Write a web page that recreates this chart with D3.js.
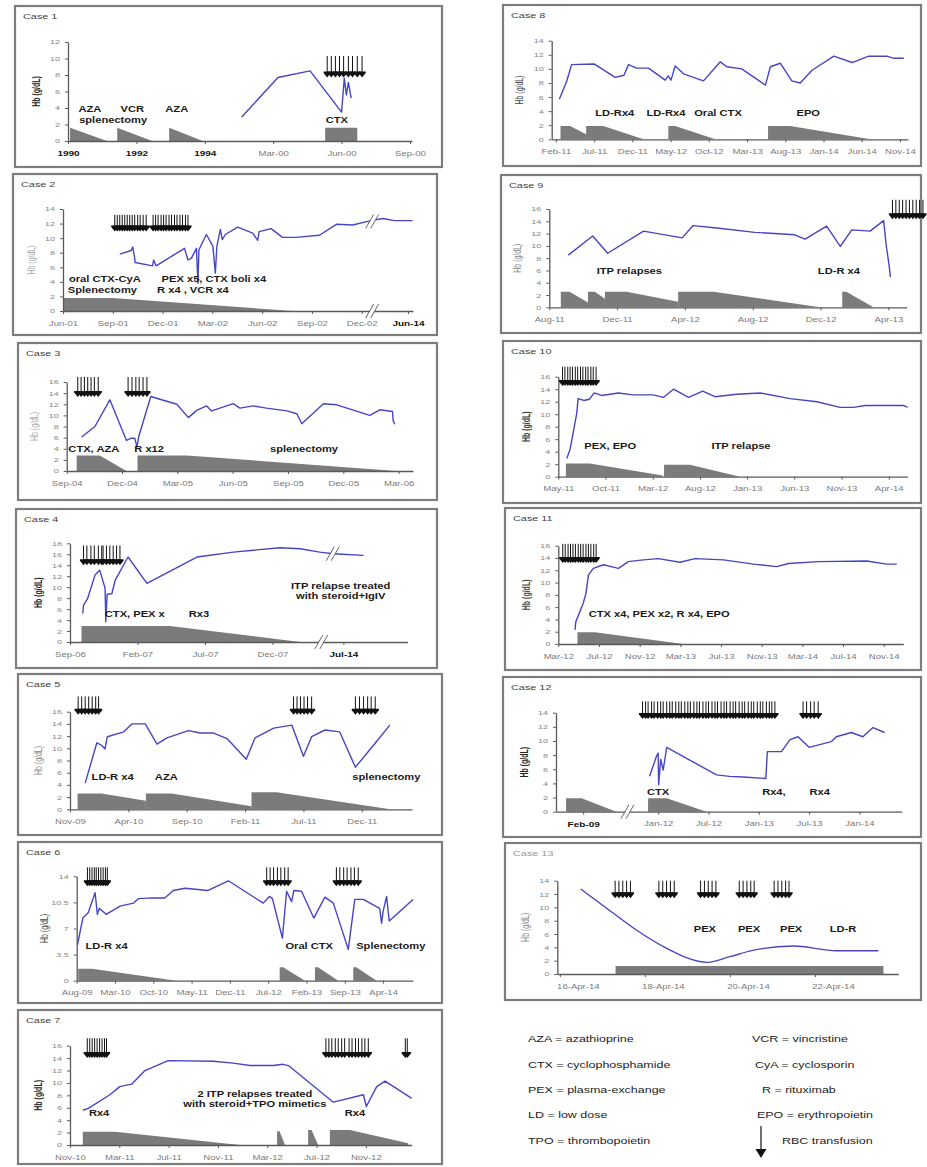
<!DOCTYPE html>
<html>
<head>
<meta charset="utf-8">
<script src="https://cdn.jsdelivr.net/npm/d3@7"></script>
<style>
  body { margin: 0; background: #fff; }
  text { font-family: "Liberation Sans", Arial, sans-serif; }
</style>
</head>
<body>
<script>
// Hb course per case: [time, Hb g/dL]; time is counted in tick intervals of each panel's axis
const case1Hb = [[2.54,2.9],[3.07,7.7],[3.54,8.5],[4.0,3.5],[4.04,7.6],[4.07,5.6],[4.1,7.1],[4.14,5.2]];
const case2Hb = [[1.14,7.8],[1.37,8.3],[1.40,8.8],[1.43,7.7],[1.45,6.65],[1.80,6.2],[1.82,7.0],[1.87,6.2],[2.44,8.6],[2.51,7.0],[2.58,7.25],[2.68,8.6],[2.71,3.8],[2.73,8.4],[2.88,10.5],[3.01,8.9],[3.06,5.2],[3.09,8.85],[3.16,11.2],[3.20,9.8],[3.26,10.5],[3.51,11.5],[3.81,10.7],[3.91,9.7],[3.94,10.9],[4.18,11.3],[4.41,10.1],[4.68,10.1],[5.15,10.4],[5.49,11.9],[5.82,11.8],[6.12,12.3],[6.42,12.7],[6.66,12.4],[7.02,12.4]];
const case3Hb = [[0.27,6.1],[0.51,8.0],[0.78,12.8],[1.08,5.5],[1.17,5.9],[1.23,5.9],[1.27,4.3],[1.30,6.1],[1.52,13.4],[1.99,12.0],[2.20,9.6],[2.35,10.9],[2.53,11.7],[2.62,10.8],[3.01,12.1],[3.13,11.3],[3.37,11.7],[3.61,11.3],[3.98,10.8],[4.16,10.3],[4.25,8.5],[4.64,12.1],[4.88,11.9],[5.48,10.0],[5.66,11.0],[5.89,10.7],[5.90,9.1],[5.93,8.4]];
const case4Hb = [[0.19,5.2],[0.2,6.7],[0.26,7.9],[0.37,12.2],[0.44,13.1],[0.52,9.8],[0.53,3.7],[0.55,8.7],[0.62,8.8],[0.67,11.3],[0.86,15.5],[1.14,10.7],[1.88,15.5],[2.42,16.4],[3.11,17.2],[3.41,17.0],[3.70,16.4],[3.90,16.1],[4.35,15.8]];
const case5Hb = [[0.26,4.3],[0.46,10.9],[0.54,10.5],[0.6,9.9],[0.64,11.9],[0.92,12.7],[1.06,14.0],[1.29,14.0],[1.49,10.7],[1.66,11.7],[2.03,12.9],[2.23,12.5],[2.46,12.5],[2.69,11.6],[3.02,8.2],[3.17,11.7],[3.49,13.3],[3.8,13.8],[4.0,8.7],[4.14,11.9],[4.37,13.0],[4.62,12.7],[4.89,6.9],[5.2,10.5],[5.48,13.8]];
const case6Hb = [[0.02,4.8],[0.16,8.4],[0.3,9.1],[0.48,11.8],[0.54,8.9],[0.59,9.7],[0.77,8.9],[1.13,10.0],[1.48,10.4],[1.61,11.0],[1.96,11.1],[2.3,11.1],[2.52,12.1],[2.83,12.4],[3.43,12.1],[3.96,13.4],[4.87,10.4],[5.03,11.3],[5.11,11.0],[5.37,5.7],[5.48,12.0],[5.61,10.6],[5.67,12.1],[5.87,12.0],[6.19,8.4],[6.48,11.2],[6.70,10.4],[7.09,4.2],[7.26,10.9],[7.48,10.9],[7.91,9.7],[7.96,7.7],[8.0,9.3],[8.09,11.3],[8.16,8.0],[8.78,10.9]];
const case7Hb = [[0.26,5.6],[0.37,5.9],[0.81,8.1],[1.01,9.4],[1.25,9.8],[1.52,12.0],[1.99,13.6],[2.91,13.5],[3.31,13.2],[3.65,12.8],[4.12,12.8],[4.32,13.0],[4.43,12.8],[5.34,6.9],[5.95,8.1],[6.01,6.2],[6.22,9.4],[6.39,10.3],[6.93,7.5]];
const case8Hb = [[0.09,5.7],[0.28,8.2],[0.41,10.6],[1.0,10.7],[1.55,8.8],[1.78,9.1],[1.9,10.6],[2.11,10.1],[2.42,10.1],[2.86,8.4],[2.94,9.0],[3.01,8.4],[3.12,10.4],[3.34,9.3],[3.86,8.3],[4.30,11.0],[4.47,10.3],[4.86,10.0],[5.48,7.7],[5.61,10.3],[5.87,10.8],[6.17,8.3],[6.39,8.0],[6.70,9.8],[7.27,11.8],[7.75,10.9],[8.18,11.8],[8.66,11.8],[8.84,11.5],[9.10,11.5]];
const case9Hb = [[0.28,8.5],[0.64,11.6],[0.86,8.8],[1.39,12.4],[1.96,11.3],[2.12,13.3],[2.47,12.9],[3.03,12.2],[3.62,11.8],[3.77,11.1],[4.09,13.2],[4.29,9.9],[4.46,12.6],[4.73,12.4],[4.93,14.1],[4.97,9.9],[5.01,6.9],[5.03,4.9]];
const case10Hb = [[0.18,2.9],[0.25,4.4],[0.39,10.1],[0.42,12.5],[0.54,12.2],[0.66,12.4],[0.76,13.4],[0.92,13.0],[1.27,13.4],[1.59,13.1],[2.01,13.1],[2.23,12.7],[2.44,14.0],[2.76,12.7],[3.06,13.7],[3.32,12.8],[3.78,13.2],[4.28,13.4],[4.91,12.5],[5.48,12.0],[5.97,11.1],[6.25,11.1],[6.5,11.4],[7.31,11.4],[7.4,11.1]];
const case11Hb = [[0.41,2.3],[0.43,3.6],[0.61,6.6],[0.68,8.2],[0.74,11.2],[0.86,12.3],[1.11,12.9],[1.48,12.3],[1.72,13.4],[2.09,13.7],[2.46,13.9],[2.99,13.3],[3.36,13.9],[4.06,13.7],[4.80,13.0],[5.37,12.6],[5.66,13.1],[6.39,13.4],[7.58,13.5],[8.07,13.0],[8.32,13.0]];
const case12Hb = [[-0.17,5.0],[-0.03,7.9],[0,8.3],[0.01,3.8],[0.05,7.4],[0.1,5.9],[0.17,9.1],[1.16,5.2],[1.42,5.0],[1.69,4.9],[2.14,4.7],[2.17,8.5],[2.45,8.5],[2.62,10.2],[2.78,10.6],[3.0,9.1],[3.44,9.9],[3.54,10.6],[3.84,11.2],[4.07,10.6],[4.27,11.9],[4.50,11.2]];
const case13Hb = [[16.49,12.75],[17.18,9.5],[17.8,6.6],[18.47,4.0],[19.47,1.75],[20.0,2.6],[20.51,3.5],[21.49,4.2],[22.51,3.5],[23.49,3.5]];

// Steroid courses: top edge of each shaded block as [time, level]
const case1Steroid = [[[0.03,1.6],[0.57,0]],[[0.72,1.6],[1.23,0]],[[1.48,1.6],[1.97,0]],[[3.76,1.6],[4.23,1.6]]];
const case2Steroid = [[[0,1.8],[1.0,1.8],[4.6,0]]];
const case3Steroid = [[[0.18,2.8],[0.6,2.8],[1.08,0]],[[1.28,2.8],[2.17,2.8],[5.96,0]]];
const case4Steroid = [[[0.17,2.9],[1.48,2.9],[3.41,0]]];
const case5Steroid = [[[0.13,2.6],[0.54,2.6],[1.3,1.4]],[[1.3,2.6],[1.74,2.6],[3.11,0.5]],[[3.11,2.8],[3.54,2.8],[5.49,0]]];
const case6Steroid = [[[0.04,1.6],[0.4,1.6],[2.6,0]],[[5.3,1.8],[5.39,1.8],[5.96,0]],[[6.22,1.8],[6.3,1.8],[6.83,0]],[[7.22,1.8],[7.3,1.8],[7.83,0]]];
const case7Steroid = [[[0.26,2.15],[0.91,2.15],[3.45,0]],[[4.2,2.2],[4.25,2.2],[4.36,0]],[[4.83,2.4],[4.9,2.4],[5.03,0]],[[5.27,2.4],[5.68,2.4],[6.86,0.3]]];
const case8Steroid = [[[0.12,1.9],[0.37,1.9],[0.79,0.7]],[[0.79,1.9],[1.24,1.9],[2.29,0]],[[2.94,1.9],[3.12,1.9],[4.17,0]],[[5.55,1.9],[6.13,1.9],[8.23,0]]];
const case9Steroid = [[[0.17,2.55],[0.3,2.55],[0.57,0.8]],[[0.57,2.55],[0.67,2.55],[0.82,1.4]],[[0.82,2.55],[1.14,2.55],[1.9,0.9]],[[1.9,2.55],[2.42,2.55],[3.99,0]],[[4.32,2.55],[4.38,2.55],[4.78,0]]];
const case10Steroid = [[[0.16,2.1],[0.67,2.1],[2.21,0.2]],[[2.24,1.9],[2.79,1.9],[3.85,0]]];
const case11Steroid = [[[0.47,1.9],[0.9,1.9],[3.07,0]]];
const case12Steroid = [[[-1.83,1.9],[-1.52,1.9],[-0.83,0]],[[-0.2,1.9],[0.17,1.9],[0.96,0]]];
const case13Steroid = [[[17.31,1.2],[23.61,1.2]]];

// RBC transfusions (time of each arrow)
const case1Rbc = [3.79,3.85,3.91,3.97,4.03,4.1,4.16,4.23,4.3];
const case2Rbc = [1.04,1.09,1.14,1.19,1.24,1.29,1.34,1.39,1.44,1.5,1.55,1.61,1.67,1.81,1.86,1.91,1.97,2.02,2.07,2.13,2.18,2.24,2.29,2.35,2.4,2.46,2.51];
const case3Rbc = [0.2,0.26,0.32,0.38,0.44,0.5,0.57,1.11,1.18,1.25,1.31,1.38,1.45];
const case4Rbc = [0.2,0.25,0.31,0.36,0.42,0.47,0.49,0.54,0.59,0.64,0.69,0.74];
const case5Rbc = [0.14,0.2,0.26,0.32,0.38,0.44,0.49,3.83,3.89,3.95,4.01,4.07,4.14,4.89,4.96,5.03,5.1,5.16,5.23];
const case6Rbc = [0.28,0.34,0.4,0.46,0.51,0.57,0.63,0.69,0.75,0.8,4.96,5.05,5.14,5.24,5.33,5.43,5.52,6.78,6.87,6.97,7.06,7.16,7.25,7.35];
const case7Rbc = [0.35,0.4,0.45,0.5,0.55,0.6,0.65,0.7,0.74,5.19,5.25,5.31,5.38,5.44,5.51,5.57,5.66,5.72,5.79,5.85,5.92,5.98,6.05,6.8,6.84];
const case8Rbc = [];
const case9Rbc = [5.06,5.11,5.16,5.21,5.26,5.31,5.36,5.41,5.46,5.51];
const case10Rbc = [0.09,0.14,0.2,0.25,0.3,0.36,0.41,0.47,0.52,0.58,0.63,0.69,0.74,0.8];
const case11Rbc = [0.11,0.17,0.24,0.3,0.36,0.42,0.49,0.55,0.61,0.68,0.74,0.8,0.87,0.93];
const case12Rbc = [-0.31,-0.25,-0.2,-0.13,-0.08,-0.01,0.05,0.1,0.17,0.23,0.28,0.35,0.41,0.46,0.53,0.59,0.64,0.71,0.77,0.82,0.89,0.95,1.0,1.07,1.13,1.18,1.25,1.31,1.36,1.43,1.49,1.54,1.61,1.67,1.72,1.79,1.85,1.9,1.97,2.03,2.08,2.15,2.21,2.26,2.32,2.88,2.95,3.03,3.1,3.18];
const case13Rbc = [17.3,17.39,17.48,17.57,17.66,18.33,18.42,18.51,18.6,18.69,19.31,19.4,19.49,19.58,19.67,20.22,20.31,20.4,20.49,20.57,21.04,21.13,21.22,21.31,21.39];

// Treatment notes: [text, time, Hb level]
const case1Notes = [["AZA",0.32,3.9],["splenectomy",0.66,2.55],["VCR",0.94,3.9],["AZA",1.59,3.9],["CTX",3.93,2.55]];
const case2Notes = [["oral CTX-CyA",0.84,4.35],["PEX x5, CTX boli x4",3.03,4.35],["Splenectomy",0.79,2.8],["R x4 , VCR x4",2.61,2.8]];
const case3Notes = [["CTX, AZA",0.49,3.9],["R x12",1.49,3.9],["splenectomy",4.29,3.9]];
const case4Notes = [["CTX, PEX x",0.96,5.05],["Rx3",1.91,5.05],["ITP relapse treated",4.01,10.2],["with steroid+IgIV",4.01,8.4]];
const case5Notes = [["LD-R x4",0.73,5.25],["AZA",1.65,5.25],["splenectomy",5.42,5.25]];
const case6Notes = [["LD-R x4",0.78,4.6],["Oral CTX",6.07,4.6],["Splenectomy",8.2,4.6]];
const case7Notes = [["Rx4",0.59,5.1],["2 ITP relapses treated",3.75,8.15],["with steroid+TPO mimetics",3.75,6.55],["Rx4",5.78,5.1]];
const case8Notes = [["LD-Rx4",1.54,3.7],["LD-Rx4",2.88,3.7],["Oral CTX",4.24,3.7],["EPO",6.6,3.7]];
const case9Notes = [["ITP relapses",1.18,5.96],["LD-R x4",4.27,5.96]];
const case10Notes = [["PEX, EPO",1.1,4.9],["ITP relapse",3.87,4.9]];
const case11Notes = [["CTX x4, PEX x2, R x4, EPO",2.48,4.9]];
const case12Notes = [["CTX",0,2.7],["Rx4,",2.3,2.7],["Rx4",3.21,2.7]];
const case13Notes = [["PEX",19.41,6.7],["PEX",20.45,6.7],["PEX",21.44,6.7],["LD-R",22.66,6.7]];

// Time axis labels
const case1Ticks = ["1990","1992","1994","Mar-00","Jun-00","Sep-00"];
const case2Ticks = ["Jun-01","Sep-01","Dec-01","Mar-02","Jun-02","Sep-02","Dec-02","Jun-14"];
const case3Ticks = ["Sep-04","Dec-04","Mar-05","Jun-05","Sep-05","Dec-05","Mar-06"];
const case4Ticks = ["Sep-06","Feb-07","Jul-07","Dec-07","Jul-14"];
const case5Ticks = ["Nov-09","Apr-10","Sep-10","Feb-11","Jul-11","Dec-11"];
const case6Ticks = ["Aug-09","Mar-10","Oct-10","May-11","Dec-11","Jul-12","Feb-13","Sep-13","Apr-14"];
const case7Ticks = ["Nov-10","Mar-11","Jul-11","Nov-11","Mar-12","Jul-12","Nov-12"];
const case8Ticks = ["Feb-11","Jul-11","Dec-11","May-12","Oct-12","Mar-13","Aug-13","Jan-14","Jun-14","Nov-14"];
const case9Ticks = ["Aug-11","Dec-11","Apr-12","Aug-12","Dec-12","Apr-13"];
const case10Ticks = ["May-11","Oct-11","Mar-12","Aug-12","Jan-13","Jun-13","Nov-13","Apr-14"];
const case11Ticks = ["Mar-12","Jul-12","Nov-12","Mar-13","Jul-13","Nov-13","Mar-14","Jul-14","Nov-14"];
const case12Ticks = ["Feb-09","Jan-12","Jul-12","Jan-13","Jul-13","Jan-14"];
const case13Ticks = ["16-Apr-14","18-Apr-14","20-Apr-14","22-Apr-14"];

const legendLeft = ["AZA = azathioprine","CTX = cyclophosphamide","PEX = plasma-exchange","LD = low dose","TPO = thrombopoietin"];
const legendRight = ["VCR = vincristine","CyA = cyclosporin","R = rituximab","EPO = erythropoietin","RBC transfusion"];

// ---------- panel layout ----------
const panels = [
  {name:"Case 1", box:[15,6,442,167], xd:[0,5.03], xr:[68,412], yd:[0,12], yr:[141,42],
   yTicks:[0,2,4,6,8,10,12], xTicks:[0,1,2,3,4,5], labels:case1Ticks, bold:[1,1,1,0,0,0],
   hb:case1Hb, steroid:case1Steroid, rbc:case1Rbc, rbcY:[10.3,7.7], notes:case1Notes, yl:["#222","bold"], breaks:[]},
  {name:"Case 2", box:[13,174,437,335], xd:[0,7.03], xr:[63,413], yd:[0,14], yr:[311,209],
   yTicks:[0,2,4,6,8,10,12,14], xTicks:[0,1,2,3,4,5,6,6.93], labels:case2Ticks, bold:[0,0,0,0,0,0,0,1],
   hb:case2Hb, steroid:case2Steroid, rbc:case2Rbc, rbcY:[13.2,10.9], notes:case2Notes, yl:["#aaa","normal"], breaks:[[6.22,0],[6.22,12.3]]},
  {name:"Case 3", box:[18,343,437,500], xd:[0,6.26], xr:[66.7,413], yd:[0,16], yr:[471,382],
   yTicks:[0,2,4,6,8,10,12,14,16], xTicks:[0,1,2,3,4,5,6], labels:case3Ticks, bold:[],
   hb:case3Hb, steroid:case3Steroid, rbc:case3Rbc, rbcY:[16.9,13.3], notes:case3Notes, yl:["#aaa","normal"], breaks:[]},
  {name:"Case 4", box:[16,509,437,668], xd:[0,5.0], xr:[70,407.5], yd:[0,18], yr:[642,543.3],
   yTicks:[0,2,4,6,8,10,12,14,16,18], xTicks:[0,1,2,3,4.05], labels:case4Ticks, bold:[0,0,0,0,1],
   hb:case4Hb, steroid:case4Steroid, rbc:case4Rbc, rbcY:[17.6,14.0], notes:case4Notes, yl:["#222","bold"], breaks:[[3.73,0],[3.9,16.1]]},
  {name:"Case 5", box:[18,674,442,835], xd:[0,5.86], xr:[70,412], yd:[0,16], yr:[809.3,711.7],
   yTicks:[0,2,4,6,8,10,12,14,16], xTicks:[0,1,2,3,4,5], labels:case5Ticks, bold:[],
   hb:case5Hb, steroid:case5Steroid, rbc:case5Rbc, rbcY:[18.5,15.5], notes:case5Notes, yl:["#888","normal"], breaks:[]},
  {name:"Case 6", box:[18,842,442,1003], xd:[0,8.78], xr:[76.7,413], yd:[0,14], yr:[980.7,876.3],
   yTicks:[0,3.5,7,10.5,14], xTicks:[0,1,2,3,4,5,6,7,8], labels:case6Ticks, bold:[],
   hb:case6Hb, steroid:case6Steroid, rbc:case6Rbc, rbcY:[15.2,12.65], notes:case6Notes, yl:["#444","normal"], breaks:[]},
  {name:"Case 7", box:[18,1010,442,1164], xd:[0,6.93], xr:[70,411.7], yd:[0,16], yr:[1145,1045.7],
   yTicks:[0,2,4,6,8,10,12,14,16], xTicks:[0,1,2,3,4,5,6], labels:case7Ticks, bold:[],
   hb:case7Hb, steroid:case7Steroid, rbc:case7Rbc, rbcY:[17.2,14.0], notes:case7Notes, yl:["#222","bold"], breaks:[]},
  {name:"Case 8", box:[503,5,921,166], xd:[-0.11,9.21], xr:[551.7,908], yd:[0,14], yr:[139.3,40.7],
   yTicks:[0,2,4,6,8,10,12,14], xTicks:[0,1,2,3,4,5,6,7,8,9], labels:case8Ticks, bold:[],
   hb:case8Hb, steroid:case8Steroid, rbc:case8Rbc, rbcY:[0,0], notes:case8Notes, yl:["#444","normal"], breaks:[]},
  {name:"Case 9", box:[501,175,921,333], xd:[0,5.27], xr:[549.3,906.7], yd:[0,16], yr:[307.3,209],
   yTicks:[0,2,4,6,8,10,12,14,16], xTicks:[0,1,2,3,4,5], labels:case9Ticks, bold:[],
   hb:case9Hb, steroid:case9Steroid, rbc:case9Rbc, rbcY:[17.5,14.35], notes:case9Notes, yl:["#888","normal"], breaks:[]},
  {name:"Case 10", box:[503,341,921,503], xd:[0,7.4], xr:[558.3,907.6], yd:[0,16], yr:[476.7,376.7],
   yTicks:[0,2,4,6,8,10,12,14,16], xTicks:[0,1,2,3,4,5,6,7], labels:case10Ticks, bold:[],
   hb:case10Hb, steroid:case10Steroid, rbc:case10Rbc, rbcY:[17.6,14.5], notes:case10Notes, yl:["#333","bold"], breaks:[]},
  {name:"Case 11", box:[505,508,921,670], xd:[0,8.48], xr:[558.3,903.3], yd:[0,16], yr:[644,545.7],
   yTicks:[0,2,4,6,8,10,12,14,16], xTicks:[0,1,2,3,4,5,6,7,8], labels:case11Ticks, bold:[],
   hb:case11Hb, steroid:case11Steroid, rbc:case11Rbc, rbcY:[16.3,13.2], notes:case11Notes, yl:["#444","bold"], breaks:[]},
  {name:"Case 12", box:[503,677,921,837], xd:[-2.03,4.84], xr:[556,901.7], yd:[0,14], yr:[811.7,712.7],
   yTicks:[0,2,4,6,8,10,12,14], xTicks:[-1.49,0,1,2,3,4], labels:case12Ticks, bold:[1,0,0,0,0,0],
   hb:case12Hb, steroid:case12Steroid, rbc:case12Rbc, rbcY:[15.6,13.1], notes:case12Notes, yl:["#222","bold"], breaks:[[-0.6,0]]},
  {name:"Case 13", box:[505,843,921,1000], xd:[15.94,23.96], xr:[557.3,898.3], yd:[0,14], yr:[974,880.7],
   yTicks:[0,2,4,6,8,10,12,14], xTicks:[16,18,20,22], labels:case13Ticks, bold:[], labelDx:18, smooth:true,
   hb:case13Hb, steroid:case13Steroid, rbc:case13Rbc, rbcY:[14.0,11.35], notes:case13Notes, yl:["#888","normal"], breaks:[], titleFill:"#999"}
];

const SX = 1.45;   // horizontal stretch of all lettering
const svg = d3.select("body").append("svg").attr("width", 927).attr("height", 1167);
svg.append("rect").attr("width", 927).attr("height", 1167).attr("fill", "#fff");

function label(g, str, x, y, o) {
  return g.append("text")
    .attr("transform", `translate(${x},${y}) scale(${o.sx || SX},1)`)
    .attr("text-anchor", o.anchor || "middle")
    .attr("dy", "0.35em")
    .style("font-size", o.size + "px")
    .style("font-weight", o.weight || "normal")
    .attr("fill", o.fill || "#222")
    .text(str);
}

function drawPanel(p) {
  const g = svg.append("g");
  const [bx0, by0, bx1, by1] = p.box;
  g.append("rect").attr("x", bx0).attr("y", by0).attr("width", bx1 - bx0).attr("height", by1 - by0)
    .attr("fill", "#fff").attr("stroke", "#7d7d7d").attr("stroke-width", 2.2);
  label(g, p.name, bx0 + 8, by0 + 10, {size: 7.5, anchor: "start", fill: p.titleFill || "#444"});

  const x = d3.scaleLinear().domain(p.xd).range(p.xr);
  const y = d3.scaleLinear().domain(p.yd).range(p.yr);
  const line = d3.line().x(d => x(d[0])).y(d => y(d[1]));

  // steroid blocks
  p.steroid.forEach(b => {
    const pts = [[b[0][0], 0], ...b, [b[b.length - 1][0], 0]];
    g.append("path").attr("d", line(pts) + "Z").attr("fill", "#7b7b7b");
  });

  // axes
  const yAxis = d3.axisLeft(y).tickValues(p.yTicks).tickFormat(d3.format("~g"))
    .tickSize(3).tickSizeOuter(0).tickPadding(5);
  const ya = g.append("g").attr("transform", `translate(${p.xr[0]},0)`).call(yAxis);
  ya.selectAll("text").attr("x", -8 / SX).attr("transform", `scale(${SX},1)`)
    .style("font-size", "6.2px").attr("fill", "#888");

  const xAxis = d3.axisBottom(x).tickValues(p.xTicks).tickFormat((d, i) => p.labels[i])
    .tickSize(3).tickSizeOuter(0).tickPadding(7);
  const xa = g.append("g").attr("transform", `translate(0,${p.yr[0]})`).call(xAxis);
  xa.selectAll("text").attr("x", (p.labelDx || 0) / SX).attr("transform", `scale(${SX},1)`)
    .style("font-size", "6.6px").attr("fill", "#7a7a7a")
    .each(function (d, i) {
      if (p.bold[i]) d3.select(this).style("font-weight", "bold").style("font-size", "6.9px").attr("fill", "#111");
    });
  [ya, xa].forEach(a => {
    a.select(".domain").attr("stroke", "#5a5a5a").attr("stroke-width", 1.3);
    a.selectAll(".tick line").attr("stroke", "#5a5a5a");
  });

  // y-axis title
  g.append("text")
    .attr("transform", `translate(${p.xr[0] - 32},${(p.yr[0] + p.yr[1]) / 2}) scale(${SX},1) rotate(-90)`)
    .attr("text-anchor", "middle").attr("dy", "0.35em")
    .style("font-size", "7px").style("font-weight", p.yl[1]).attr("fill", p.yl[0])
    .text("Hb (g/dL)");

  // Hb course
  g.append("path").datum(p.hb)
    .attr("d", line.curve(p.smooth ? d3.curveMonotoneX : d3.curveLinear))
    .attr("fill", "none").attr("stroke", "#4646c4").attr("stroke-width", 1.4)
    .attr("stroke-linejoin", "round");

  // RBC transfusion arrows: stems, with heads that merge into a band where they crowd together
  p.rbc.forEach(v => {
    const px = x(v), top = y(p.rbcY[0]), tip = y(p.rbcY[1]);
    g.append("line").attr("x1", px).attr("x2", px).attr("y1", top).attr("y2", tip - 4)
      .attr("stroke", "#111").attr("stroke-width", 1);
    g.append("path")
      .attr("d", `M${px - 3.6},${tip - 6}L${px + 3.6},${tip - 6}L${px + 3.6},${tip - 4.5}L${px},${tip}L${px - 3.6},${tip - 4.5}Z`)
      .attr("fill", "#111");
  });

  // axis breaks
  p.breaks.forEach(b => {
    const cx = x(b[0]), cy = y(b[1]);
    g.append("path").attr("d", `M${cx - 7},${cy + 7}L${cx + 1},${cy - 7}L${cx + 6},${cy - 7}L${cx - 2},${cy + 7}Z`).attr("fill", "#fff");
    g.append("path").attr("d", `M${cx - 7},${cy + 7}L${cx + 1},${cy - 7}M${cx - 2},${cy + 7}L${cx + 6},${cy - 7}`)
      .attr("stroke", "#555").attr("stroke-width", 0.9).attr("fill", "none");
  });

  // treatment notes
  p.notes.forEach(n => label(g, n[0], x(n[1]), y(n[2]), {size: 8.2, weight: "bold", fill: "#1a1a1a", sx: 1.36}));
}

panels.forEach(drawPanel);

// legend
const lg = svg.append("g");
const rowY = [1039, 1065, 1090, 1115, 1141];
legendLeft.forEach((t, i) => label(lg, t, 528, rowY[i], {size: 8.6, anchor: "start", fill: "#222"}));
const rightX = [752, 755, 762, 757, 782];
legendRight.forEach((t, i) => label(lg, t, rightX[i], rowY[i], {size: 8.6, anchor: "start", fill: "#222"}));
lg.append("line").attr("x1", 761).attr("x2", 761).attr("y1", 1126).attr("y2", 1151).attr("stroke", "#111").attr("stroke-width", 1.2);
lg.append("path").attr("d", "M755.5,1149L766.5,1149L761,1158Z").attr("fill", "#111");
</script>
</body>
</html>
